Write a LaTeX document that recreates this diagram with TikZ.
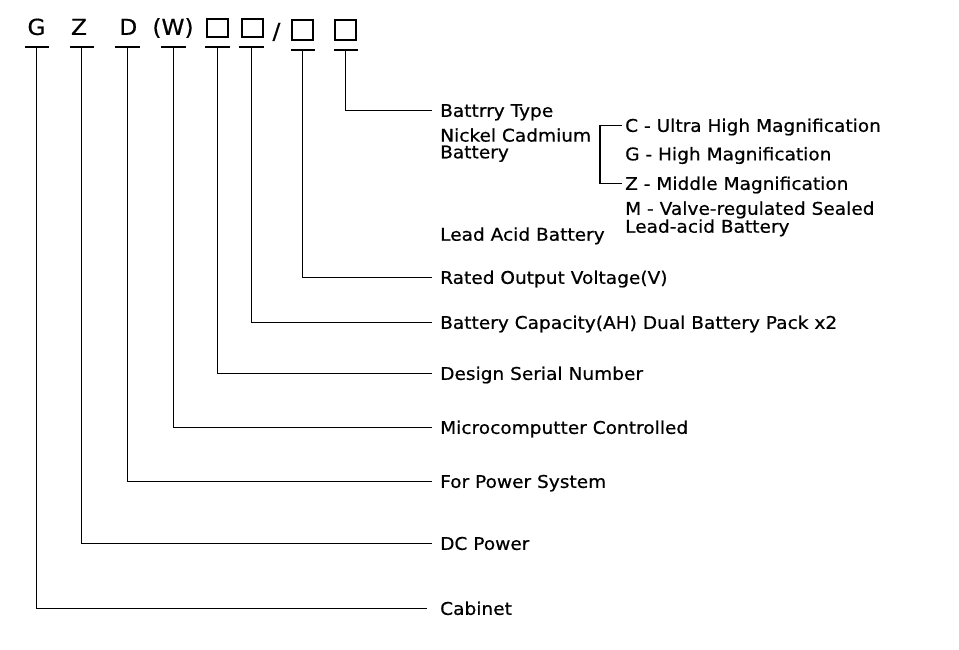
\documentclass[tikz,border=0pt]{standalone}
\usepackage{fontspec}
\setmainfont{DejaVu Sans}[FakeStretch=1.06, FakeBold=0.6]
\begin{document}
\begin{tikzpicture}[x=1pt,y=-1pt,
  lbl/.style={anchor=west, inner xsep=0pt, inner ysep=0pt, font=\fontsize{17.5}{17}\selectfont, text height=12.7pt, text depth=0pt},
  two/.style={anchor=base west, inner sep=0pt, align=left, font=\fontsize{17.5}{16.7}\selectfont},
  hdr/.style={font=\fontsize{22}{22}\selectfont, inner sep=0pt, text height=15.8pt, text depth=0pt},
  ul/.style={line width=2pt},
  conn/.style={line width=1.2pt},
  thin/.style={line width=1.1pt},
  sq/.style={draw, line width=1.2pt, minimum width=21pt, minimum height=18pt, inner sep=0pt}
]
\useasboundingbox[fill=white] (0,0) rectangle (959,650);

% header
\node[hdr] (hG) at (36.5,27) {G};
\node[hdr] (hZ) at (79,27) {Z};
\node[hdr] (hD) at (128.3,27) {D};
\node[hdr] (hW) at (173,27) {(W)};
\node[sq] (b1) at (217.5,28) {};
\node[sq] (b2) at (252.5,28) {};
\node[hdr] (sl) at (276.5,31) {/};
\node[sq, minimum height=20pt] (b3) at (302.5,30) {};
\node[sq, minimum height=20pt] (b4) at (345.5,30) {};

% underlines
\coordinate (uG) at (36.5,47);
\coordinate (uZ) at (81.5,47);
\coordinate (uD) at (127.5,47);
\coordinate (uW) at (173.5,47);
\coordinate (u1) at (217.5,47);
\coordinate (u2) at (251.5,47);
\coordinate (u3) at (302.5,50);
\coordinate (u4) at (345.5,50);
\draw[ul] (25,47) -- (49,47);
\draw[ul] (70,47) -- (94,47);
\draw[ul] (115,47) -- (140,47);
\draw[ul] (161,47) -- (186,47);
\draw[ul] (205,47) -- (230,47);
\draw[ul] (239,47) -- (264,47);
\draw[ul] (291,50) -- (315,50);
\draw[ul] (334,50) -- (358,50);

% labels
\node[lbl] (lType) at (440,110.5) {Battrry Type};
\node[lbl] (lVolt) at (440,277.5) {Rated Output Voltage(V)};
\node[lbl] (lCap) at (440,322.5) {Battery Capacity(AH) Dual Battery Pack x2};
\node[lbl] (lSer) at (440,373.5) {Design Serial Number};
\node[lbl] (lMic) at (440,427.5) {Microcomputter Controlled};
\node[lbl] (lPow) at (440,481.5) {For Power System};
\node[lbl] (lDC) at (440,543.5) {DC Power};
\node[lbl] (lCab) at (440,608.5) {Cabinet};

\node[two] (lNi) at (440,158.3) {Nickel Cadmium\\Battery};
\node[two] (lLead) at (440,240.7) {Lead Acid Battery};
\node[two] (lM) at (625,232.7) {M - Valve-regulated Sealed\\Lead-acid Battery};
\node[lbl] (nC) at (625,125.5) {C - Ultra High Magnification};
\node[lbl] (nG) at (625,154) {G - High Magnification};
\node[lbl] (nZ) at (625,183.5) {Z - Middle Magnification};

% bracket
\draw[thin] ([xshift=-3pt]nC.west) -- ([xshift=-25pt]nC.west) |- ([xshift=-3pt]nZ.west);

% connectors
\draw[conn] (u4) |- ([xshift=-8.5pt]lType.west);
\draw[conn] (u3) |- ([xshift=-8.5pt]lVolt.west);
\draw[conn] (u2) |- ([xshift=-8.5pt]lCap.west);
\draw[conn] (u1) |- ([xshift=-8.5pt]lSer.west);
\draw[conn] (uW) |- ([xshift=-8.5pt]lMic.west);
\draw[conn] (uD) |- ([xshift=-8.5pt]lPow.west);
\draw[conn] (uZ) |- ([xshift=-8.5pt]lDC.west);
\draw[conn] (uG) |- ([xshift=-13pt]lCab.west);
\end{tikzpicture}
\end{document}
